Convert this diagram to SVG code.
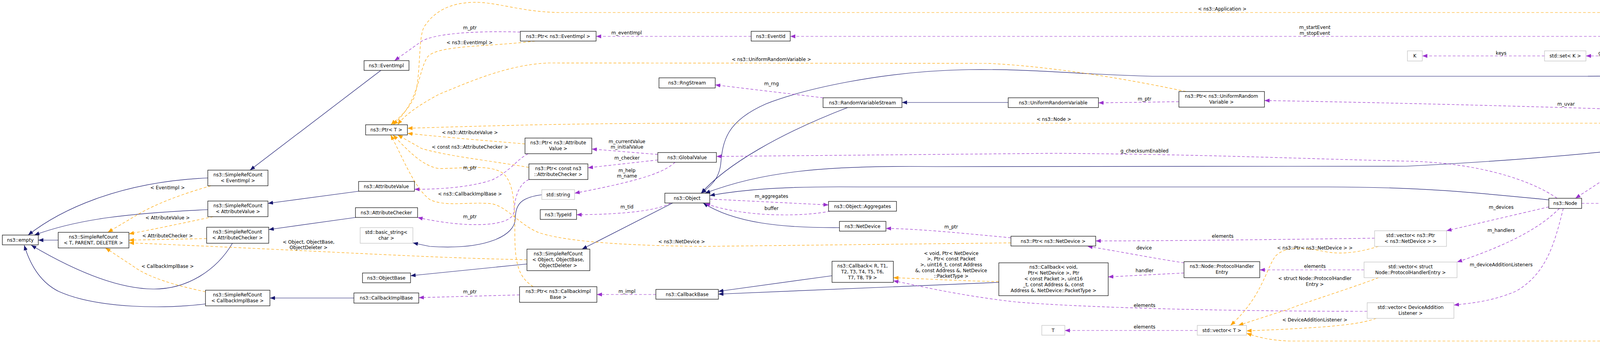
<svg xmlns="http://www.w3.org/2000/svg" width="5339" height="877" viewBox="0 0 5339 877">
<style>
text{font-family:"DejaVu Sans","Liberation Sans",sans-serif;font-size:12px;fill:#000;text-anchor:middle}
.n rect{fill:#fff;stroke:#000;stroke-width:1.2}
.g rect{fill:#fff;stroke:#bfbfbf;stroke-width:1.2}
.h rect{fill:#bfbfbf;stroke:#000;stroke-width:1.2}
path{fill:none}
.i{stroke:#191970;stroke-width:1.2;marker-end:url(#ai)}
.m{stroke:#9a32cd;stroke-width:1.2;stroke-dasharray:7,5;marker-end:url(#am)}
.t{stroke:#ffa500;stroke-width:1.2;stroke-dasharray:7,5;marker-end:url(#at)}
</style>
<defs>
<marker id="ai" markerUnits="userSpaceOnUse" markerWidth="14" markerHeight="10" refX="13" refY="5" orient="auto"><path d="M0,0 L13,5 L0,10 z" style="fill:#191970;stroke:none"/></marker>
<marker id="am" markerUnits="userSpaceOnUse" markerWidth="14" markerHeight="10" refX="13" refY="5" orient="auto"><path d="M0,0 L13,5 L0,10 z" style="fill:#9a32cd;stroke:none"/></marker>
<marker id="at" markerUnits="userSpaceOnUse" markerWidth="14" markerHeight="10" refX="13" refY="5" orient="auto"><path d="M0,0 L13,5 L0,10 z" style="fill:#ffa500;stroke:none"/></marker>
</defs>
<rect width="5339" height="877" fill="#fff"/>
<g id="connectors">
<path class="i" d="M149,614 L98,614"/>
<path class="i" d="M532,455 C300,465 150,540 72,601"/>
<path class="i" d="M532,536 C330,545 200,560 88,601"/>
<path class="i" d="M595,622 C555,690 480,740 392,739 C290,738 170,680 80,627"/>
<path class="i" d="M526,777 C430,790 250,790 150,745 C100,720 75,670 62,627"/>
<path class="i" d="M975,180 L640,435"/>
<path class="i" d="M918,489 L686,520"/>
<path class="i" d="M910,556 L688,587"/>
<path class="i" d="M906,762 L691,762"/>
<path class="i" d="M1387,498 C1330,505 1320,525 1319,560 C1318,600 1250,640 1100,630 L1057,621"/>
<path class="i" d="M1349,675 L1051,705"/>
<path class="i" d="M1722,519 L1490,637"/>
<path class="i" d="M2170,275 C2000,340 1860,420 1795,494"/>
<path class="i" d="M2581,262 L2309,262"/>
<path class="i" d="M4601,176 C4400,185 4300,195 4000,195 L2950,195 C2750,190 2650,176 2480,178 C2250,182 2050,230 1960,266 C1860,310 1850,360 1845,420 C1840,460 1815,480 1795,494"/>
<path class="i" d="M3965,511 C3800,495 3650,478 3400,478 L2200,478 C2000,476 1900,485 1817,500"/>
<path class="i" d="M4591,328 C4400,355 4100,400 3600,425 L2400,426 C2100,422 1950,440 1805,494"/>
<path class="i" d="M2149,582 C2000,583 1880,570 1800,519"/>
<path class="i" d="M4834,316 L4741,316"/>
<path class="i" d="M2130,705 L1839,745"/>
<path class="i" d="M2557,722 L1839,752"/>

<path class="m" d="M1332,82 C1200,78 1110,88 1080,105 L1010,155"/>
<path class="m" d="M1923,93 L1526,93"/>
<path class="m" d="M4650,156 C4600,115 4520,95 4380,93 L2023,93"/>
<path class="m" d="M4601,164 C4500,160 4430,150 4368,148"/>
<path class="m" d="M4284,143 L4060,143"/>
<path class="m" d="M3954,143 L3641,143"/>
<path class="m" d="M4645,181 C4560,220 4450,270 4365,303"/>
<path class="m" d="M4591,316 L4407,316"/>
<path class="m" d="M4305,329 L4033,507"/>
<path class="m" d="M3986,507 C3920,460 3780,415 3600,412 C3300,405 3100,395 2700,392 L1834,400"/>
<path class="m" d="M3018,260 L2812,263"/>
<path class="m" d="M4610,303 C4570,293 4540,291 4478,291 C4200,280 3700,265 3237,257"/>
<path class="m" d="M2107,250 L1831,217"/>
<path class="m" d="M1684,395 L1515,381"/>
<path class="m" d="M1684,409 L1505,429"/>
<path class="m" d="M1728,415 C1700,440 1650,460 1471,494"/>
<path class="m" d="M1717,519 C1690,535 1620,548 1476,549"/>
<path class="m" d="M1817,509 L2121,524"/>
<path class="m" d="M2125,540 C2050,555 1900,555 1805,520"/>
<path class="m" d="M1352,393 C1320,410 1310,435 1260,460 C1200,480 1120,484 1061,484"/>
<path class="m" d="M1354,459 C1330,470 1318,500 1316,540 C1314,580 1200,585 1069,556"/>
<path class="m" d="M1330,754 L1072,761"/>
<path class="m" d="M1679,753 L1528,753"/>
<path class="m" d="M2588,608 C2450,595 2350,585 2268,584"/>
<path class="m" d="M3519,609 C3300,612 3000,616 2805,616"/>
<path class="m" d="M3031,672 C2950,660 2850,640 2784,630"/>
<path class="m" d="M3031,698 L2837,708"/>
<path class="m" d="M3492,690 L3225,690"/>
<path class="m" d="M3500,796 C3100,796 2750,785 2600,772 C2450,755 2350,730 2287,718"/>
<path class="m" d="M3065,845 L2726,845"/>
<path class="m" d="M3965,529 L3703,590"/>
<path class="m" d="M3992,533 C3950,575 3880,620 3730,670"/>
<path class="m" d="M4002,533 C3980,620 3960,700 3880,745 C3820,770 3770,775 3722,780"/>
<path class="m" d="M4049,520 L5162,520"/>
<path class="m" d="M4841,168 L4731,168"/>
<path class="m" d="M5228,499 L4964,181"/>

<path class="t" d="M540,475 C470,495 400,520 350,550 L276,594"/>
<path class="t" d="M546,554 C470,570 400,585 330,598"/>
<path class="t" d="M529,610 L330,614"/>
<path class="t" d="M1349,664 C1100,660 800,640 330,621"/>
<path class="t" d="M526,746 C450,730 380,710 340,680 L270,634"/>
<path class="t" d="M1370,105 C1250,120 1120,115 1095,145 C1070,180 1075,260 1006,319"/>
<path class="t" d="M4926,156 C4850,100 4760,32 4680,32 L1430,32 C1330,30 1270,4 1210,6 C1150,8 1110,30 1085,70 C1070,100 1078,200 1060,250 C1040,290 1010,310 1001,319"/>
<path class="t" d="M3036,234 C2900,205 2700,170 2528,162 L1404,161 C1300,165 1200,210 1124,241 C1070,270 1035,295 1018,319"/>
<path class="t" d="M4244,315 L1800,315 C1500,315 1300,320 1043,328"/>
<path class="t" d="M1344,368 C1250,360 1150,352 1043,341"/>
<path class="t" d="M1354,428 C1250,410 1150,400 1080,380 L1018,345"/>
<path class="t" d="M1365,733 C1330,710 1318,680 1318,600 C1318,520 1315,470 1290,445 C1260,420 1200,430 1124,431 C1080,425 1040,380 1006,345"/>
<path class="t" d="M2588,621 L1800,630 C1600,628 1450,618 1380,595 C1330,575 1300,530 1260,521 C1200,515 1140,530 1100,510 C1060,480 1030,400 1000,345"/>
<path class="t" d="M2557,720 C2450,718 2350,712 2287,710"/>
<path class="t" d="M3529,630 C3480,645 3440,650 3400,645 C3330,630 3290,630 3265,655 C3240,690 3230,760 3150,832"/>
<path class="t" d="M3529,710 C3450,740 3350,770 3300,790 L3170,832"/>
<path class="t" d="M3523,814 C3480,830 3400,838 3191,846"/>
<path class="t" d="M5240,539 C5200,700 5100,872 4900,872 L3300,872 C3250,870 3220,862 3191,852"/>

<text x="429" y="484">&lt; EventImpl &gt;</text>
<text x="429" y="561">&lt; AttributeValue &gt;</text>
<text x="429" y="607">&lt; AttributeChecker &gt;</text>
<text x="790" y="623">&lt; Object, ObjectBase,</text>
<text x="790" y="637">ObjectDeleter &gt;</text>
<text x="429" y="685">&lt; CallbackImplBase &gt;</text>
<text x="1203" y="75">m_ptr</text>
<text x="1202" y="113">&lt; ns3::EventImpl &gt;</text>
<text x="1604" y="88">m_eventImpl</text>
<text x="1203" y="343">&lt; ns3::AttributeValue &gt;</text>
<text x="1203" y="380">&lt; const ns3::AttributeChecker &gt;</text>
<text x="1203" y="433">m_ptr</text>
<text x="1203" y="500">&lt; ns3::CallbackImplBase &gt;</text>
<text x="1203" y="558">m_ptr</text>
<text x="1203" y="750">m_ptr</text>
<text x="1605" y="749">m_impl</text>
<text x="1605" y="366">m_currentValue</text>
<text x="1605" y="380">m_initialValue</text>
<text x="1605" y="408">m_checker</text>
<text x="1605" y="440">m_help</text>
<text x="1605" y="454">m_name</text>
<text x="1605" y="533">m_tid</text>
<text x="1745" y="622">&lt; ns3::NetDevice &gt;</text>
<text x="1975" y="156">&lt; ns3::UniformRandomVariable &gt;</text>
<text x="1975" y="218">m_rng</text>
<text x="1975" y="506">m_aggregates</text>
<text x="1975" y="537">buffer</text>
<text x="2435" y="584">m_ptr</text>
<text x="2435" y="652">&lt; void, Ptr&lt; NetDevice</text>
<text x="2435" y="666">&gt;, Ptr&lt; const Packet</text>
<text x="2435" y="681">&gt;, uint16_t, const Address</text>
<text x="2435" y="696">&amp;, const Address &amp;, NetDevice</text>
<text x="2435" y="710">::PacketType &gt;</text>
<text x="2698" y="309">&lt; ns3::Node &gt;</text>
<text x="3129" y="27">&lt; ns3::Application &gt;</text>
<text x="3366" y="74">m_startEvent</text>
<text x="3366" y="89">m_stopEvent</text>
<text x="2930" y="257">m_ptr</text>
<text x="2930" y="390">g_checksumEnabled</text>
<text x="3130" y="608">elements</text>
<text x="2929" y="638">device</text>
<text x="3366" y="638">&lt; ns3::Ptr&lt; ns3::NetDevice &gt; &gt;</text>
<text x="2930" y="696">handler</text>
<text x="3366" y="685">elements</text>
<text x="3366" y="716">&lt; struct Node::ProtocolHandler</text>
<text x="3366" y="731">Entry &gt;</text>
<text x="2930" y="785">elements</text>
<text x="3366" y="822">&lt; DeviceAdditionListener &gt;</text>
<text x="2930" y="840">elements</text>
<text x="3843" y="140">keys</text>
<text x="4141" y="140">g_markingTimes</text>
<text x="4009" y="270">m_uvar</text>
<text x="4141" y="394">m_ptr</text>
<text x="3843" y="534">m_devices</text>
<text x="3843" y="593">m_handlers</text>
<text x="3843" y="681">m_deviceAdditionListeners</text>
<text x="4327" y="868">&lt; ns3::Ptr&lt; ns3::Application &gt; &gt;</text>
<text x="4495" y="135">m_startTime</text>
<text x="4495" y="149">m_stopTime</text>
<text x="4515" y="220">m_node</text>
<text x="4515" y="311">m_node</text>
<text x="4790" y="164">m_ptr</text>
<text x="5120" y="316">elements</text>
<text x="4668" y="515">m_applications</text>
</g>

<g id="empty" class="n"><rect x="6" y="601" width="92" height="25"/><text x="52" y="618">ns3::empty</text></g>
<g id="srcT" class="n"><rect x="149" y="594" width="181" height="40"/><text x="239" y="610">ns3::SimpleRefCount</text><text x="239" y="625">&lt; T, PARENT, DELETER &gt;</text></g>
<g id="srcEventImpl" class="n"><rect x="532" y="435" width="154" height="40"/><text x="609" y="451">ns3::SimpleRefCount</text><text x="609" y="466">&lt; EventImpl &gt;</text></g>
<g id="srcAttributeValue" class="n"><rect x="532" y="514" width="154" height="40"/><text x="609" y="530">ns3::SimpleRefCount</text><text x="609" y="545">&lt; AttributeValue &gt;</text></g>
<g id="srcAttributeChecker" class="n"><rect x="529" y="581" width="159" height="41"/><text x="608" y="597">ns3::SimpleRefCount</text><text x="608" y="612">&lt; AttributeChecker &gt;</text></g>
<g id="srcCallbackImplBase" class="n"><rect x="526" y="742" width="165" height="40"/><text x="608" y="758">ns3::SimpleRefCount</text><text x="608" y="773">&lt; CallbackImplBase &gt;</text></g>
<g id="EventImpl" class="n"><rect x="932" y="155" width="115" height="25"/><text x="989" y="172">ns3::EventImpl</text></g>
<g id="PtrT" class="n"><rect x="936" y="319" width="107" height="26"/><text x="989" y="336">ns3::Ptr&lt; T &gt;</text></g>
<g id="PtrEventImpl" class="n"><rect x="1332" y="80" width="194" height="25"/><text x="1429" y="97">ns3::Ptr&lt; ns3::EventImpl &gt;</text></g>
<g id="PtrAttributeValue" class="n"><rect x="1344" y="353" width="171" height="40"/><text x="1429" y="369">ns3::Ptr&lt; ns3::Attribute</text><text x="1429" y="384">Value &gt;</text></g>
<g id="PtrAttributeChecker" class="n"><rect x="1354" y="419" width="151" height="40"/><text x="1429" y="435">ns3::Ptr&lt; const ns3</text><text x="1429" y="450">::AttributeChecker &gt;</text></g>
<g id="AttributeValue" class="n"><rect x="918" y="464" width="143" height="25"/><text x="989" y="481">ns3::AttributeValue</text></g>
<g id="AttributeChecker" class="n"><rect x="910" y="531" width="159" height="25"/><text x="989" y="548">ns3::AttributeChecker</text></g>
<g id="basicString" class="g"><rect x="922" y="582" width="135" height="40"/><text x="989" y="598">std::basic_string&lt;</text><text x="989" y="613">char &gt;</text></g>
<g id="string" class="g"><rect x="1387" y="485" width="84" height="25"/><text x="1429" y="502">std::string</text></g>
<g id="TypeId" class="n"><rect x="1383" y="536" width="93" height="25"/><text x="1429" y="553">ns3::TypeId</text></g>
<g id="srcObject" class="n"><rect x="1349" y="637" width="161" height="55"/><text x="1429" y="653">ns3::SimpleRefCount</text><text x="1429" y="668">&lt; Object, ObjectBase,</text><text x="1429" y="683">ObjectDeleter &gt;</text></g>
<g id="ObjectBase" class="n"><rect x="928" y="698" width="123" height="25"/><text x="989" y="715">ns3::ObjectBase</text></g>
<g id="CallbackImplBase" class="n"><rect x="906" y="749" width="166" height="26"/><text x="989" y="766">ns3::CallbackImplBase</text></g>
<g id="PtrCallbackImplBase" class="n"><rect x="1330" y="733" width="198" height="40"/><text x="1429" y="749">ns3::Ptr&lt; ns3::CallbackImpl</text><text x="1429" y="764">Base &gt;</text></g>
<g id="RngStream" class="n"><rect x="1687" y="199" width="144" height="26"/><text x="1759" y="216">ns3::RngStream</text></g>
<g id="GlobalValue" class="n"><rect x="1684" y="390" width="150" height="25"/><text x="1759" y="407">ns3::GlobalValue</text></g>
<g id="Object" class="n"><rect x="1702" y="494" width="115" height="25"/><text x="1759" y="511">ns3::Object</text></g>
<g id="CallbackBase" class="n"><rect x="1679" y="740" width="160" height="25"/><text x="1759" y="757">ns3::CallbackBase</text></g>
<g id="EventId" class="n"><rect x="1923" y="80" width="100" height="25"/><text x="1973" y="97">ns3::EventId</text></g>
<g id="RandomVariableStream" class="n"><rect x="2107" y="250" width="202" height="25"/><text x="2208" y="267">ns3::RandomVariableStream</text></g>
<g id="UniformRandomVariable" class="n"><rect x="2581" y="250" width="231" height="25"/><text x="2696" y="267">ns3::UniformRandomVariable</text></g>
<g id="Aggregates" class="n"><rect x="2121" y="515" width="174" height="25"/><text x="2208" y="532">ns3::Object::Aggregates</text></g>
<g id="NetDevice" class="n"><rect x="2149" y="566" width="119" height="25"/><text x="2208" y="583">ns3::NetDevice</text></g>
<g id="PtrNetDevice" class="n"><rect x="2588" y="604" width="217" height="25"/><text x="2696" y="621">ns3::Ptr&lt; ns3::NetDevice &gt;</text></g>
<g id="CallbackR" class="n"><rect x="2130" y="668" width="157" height="54"/><text x="2208" y="684">ns3::Callback&lt; R, T1,</text><text x="2208" y="699">T2, T3, T4, T5, T6,</text><text x="2208" y="714">T7, T8, T9 &gt;</text></g>
<g id="CallbackVoid" class="n"><rect x="2557" y="672" width="280" height="84"/><text x="2697" y="687">ns3::Callback&lt; void,</text><text x="2697" y="702">Ptr&lt; NetDevice &gt;, Ptr</text><text x="2697" y="717">&lt; const Packet &gt;, uint16</text><text x="2697" y="732">_t, const Address &amp;, const</text><text x="2697" y="747">Address &amp;, NetDevice::PacketType &gt;</text></g>
<g id="T" class="g"><rect x="2667" y="832" width="59" height="25"/><text x="2696" y="849">T</text></g>
<g id="PtrUniformRandomVariable" class="n"><rect x="3018" y="234" width="219" height="40"/><text x="3127" y="250">ns3::Ptr&lt; ns3::UniformRandom</text><text x="3127" y="265">Variable &gt;</text></g>
<g id="ProtocolHandlerEntry" class="n"><rect x="3031" y="669" width="194" height="41"/><text x="3128" y="685">ns3::Node::ProtocolHandler</text><text x="3128" y="700">Entry</text></g>
<g id="vectorT" class="g"><rect x="3065" y="832" width="126" height="25"/><text x="3128" y="849">std::vector&lt; T &gt;</text></g>
<g id="vectorPtrNetDevice" class="g"><rect x="3519" y="590" width="184" height="40"/><text x="3611" y="606">std::vector&lt; ns3::Ptr</text><text x="3611" y="621">&lt; ns3::NetDevice &gt; &gt;</text></g>
<g id="vectorProtocolHandlerEntry" class="g"><rect x="3492" y="670" width="238" height="40"/><text x="3611" y="686">std::vector&lt; struct</text><text x="3611" y="701">Node::ProtocolHandlerEntry &gt;</text></g>
<g id="vectorDeviceAdditionListener" class="g"><rect x="3500" y="774" width="222" height="40"/><text x="3611" y="790">std::vector&lt; DeviceAddition</text><text x="3611" y="805">Listener &gt;</text></g>
<g id="K" class="g"><rect x="3603" y="130" width="38" height="26"/><text x="3622" y="147">K</text></g>
<g id="setK" class="g"><rect x="3954" y="130" width="106" height="26"/><text x="4007" y="147">std::set&lt; K &gt;</text></g>
<g id="Time" class="n"><rect x="4284" y="130" width="84" height="26"/><text x="4326" y="147">ns3::Time</text></g>
<g id="PtrNode" class="n"><rect x="4244" y="303" width="163" height="26"/><text x="4325" y="320">ns3::Ptr&lt; ns3::Node &gt;</text></g>
<g id="Node" class="n"><rect x="3965" y="507" width="84" height="26"/><text x="4007" y="524">ns3::Node</text></g>
<g id="Application" class="n"><rect x="4601" y="156" width="131" height="25"/><text x="4666" y="173">ns3::Application</text></g>
<g id="PtrApplication" class="n"><rect x="4841" y="156" width="210" height="25"/><text x="4946" y="173">ns3::Ptr&lt; ns3::Application &gt;</text></g>
<g id="Ipv6Extension" class="n"><rect x="4591" y="303" width="150" height="25"/><text x="4666" y="320">ns3::Ipv6Extension</text></g>
<g id="Ipv6ExtensionDestination" class="h"><rect x="4834" y="303" width="225" height="25"/><text x="4946" y="320">ns3::Ipv6ExtensionDestination</text></g>
<g id="vectorPtrApplication" class="g"><rect x="5162" y="499" width="171" height="40"/><text x="5247" y="515">std::vector&lt; ns3::Ptr</text><text x="5247" y="530">&lt; ns3::Application &gt; &gt;</text></g>
</svg>
